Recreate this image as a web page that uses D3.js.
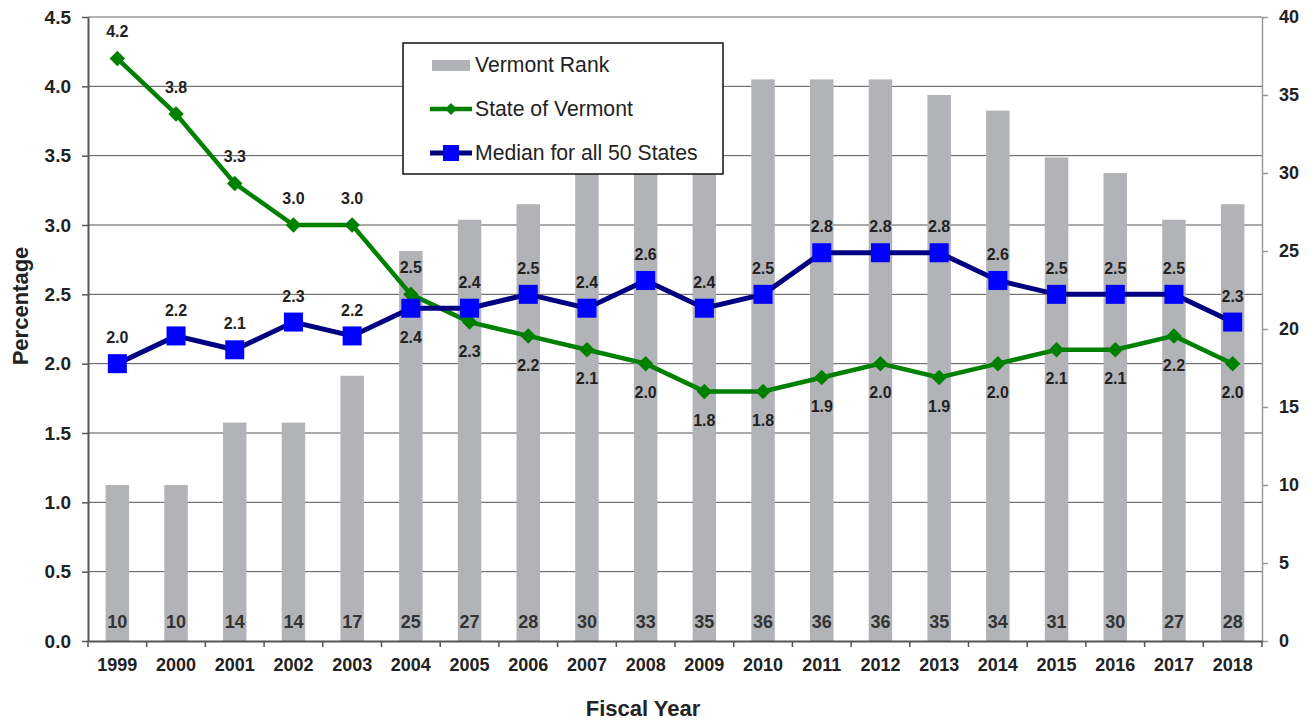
<!DOCTYPE html>
<html><head><meta charset="utf-8">
<script src="https://cdn.jsdelivr.net/npm/d3@7"></script>
<style>body{margin:0;background:#fff}svg{display:block;font-family:"Liberation Sans",Arial,sans-serif}</style>
</head><body><svg id="c" width="1312" height="721"></svg>
<script>
const years = ["1999","2000","2001","2002","2003","2004","2005","2006","2007","2008","2009","2010","2011","2012","2013","2014","2015","2016","2017","2018"];
const vermontRank = [10,10,14,14,17,25,27,28,30,33,35,36,36,36,35,34,31,30,27,28];
const stateOfVermont = [4.2,3.8,3.3,3.0,3.0,2.5,2.3,2.2,2.1,2.0,1.8,1.8,1.9,2.0,1.9,2.0,2.1,2.1,2.2,2.0];
const median50 = [2.0,2.2,2.1,2.3,2.2,2.4,2.4,2.5,2.4,2.6,2.4,2.5,2.8,2.8,2.8,2.6,2.5,2.5,2.5,2.3];
const leftTicks = [0,0.5,1,1.5,2,2.5,3,3.5,4,4.5];
const rightTicks = [0,5,10,15,20,25,30,35,40];

const svg = d3.select("#c");
const L = 88, R = 1262, T = 17, B = 641;
const x = d3.scaleBand().domain(years).range([L, R]).paddingInner(0.6).paddingOuter(0.3);
const xc = d => x(d) + x.bandwidth()/2;
const yL = d3.scaleLinear().domain([0,4.5]).range([B,T]);
const yR = d3.scaleLinear().domain([0,40]).range([B,T]);
const txt = "#222";
const FF = "Liberation Sans, Arial, sans-serif";

// gridlines
svg.append("g").selectAll("line").data(leftTicks.slice(1,-1)).join("line")
  .attr("x1",L).attr("x2",R).attr("y1",d=>yL(d)).attr("y2",d=>yL(d))
  .attr("stroke","#555").attr("stroke-width",1);
svg.append("line").attr("x1",L).attr("x2",R).attr("y1",T).attr("y2",T).attr("stroke","#999").attr("stroke-width",1.5);

// bars
svg.append("g").selectAll("rect").data(years).join("rect")
  .attr("x",d=>x(d)).attr("width",x.bandwidth())
  .attr("y",(d,i)=>yR(vermontRank[i])).attr("height",(d,i)=>B-yR(vermontRank[i]))
  .attr("fill","#b2b3b7");
svg.append("g").selectAll("text").data(years).join("text")
  .attr("x",d=>xc(d)).attr("y",622).attr("dy","0.35em").attr("text-anchor","middle")
  .attr("font-size",18).attr("font-weight","bold").attr("fill","#333")
  .text((d,i)=>vermontRank[i]);

// axes
const gl = svg.append("g").attr("transform",`translate(${L},0)`)
  .call(d3.axisLeft(yL).tickValues(leftTicks).tickFormat(d3.format(".1f")).tickSize(6).tickSizeOuter(0));
gl.select(".domain").attr("stroke","#555").attr("stroke-width",2);
gl.selectAll(".tick line").attr("stroke","#555").attr("stroke-width",1.5);
gl.selectAll(".tick text").attr("font-size",19).attr("font-weight","bold").attr("fill",txt)
  .attr("font-family",FF).attr("x",-17);

const gr = svg.append("g").attr("transform",`translate(${R},0)`)
  .call(d3.axisRight(yR).tickValues(rightTicks).tickSize(6).tickSizeOuter(0));
gr.select(".domain").attr("stroke","#999").attr("stroke-width",1.5);
gr.selectAll(".tick line").attr("stroke","#999").attr("stroke-width",1.5);
gr.selectAll(".tick text").attr("font-size",18).attr("font-weight","bold").attr("fill",txt)
  .attr("font-family",FF).attr("x",17);

const gx = svg.append("g").attr("transform",`translate(0,${B})`)
  .call(d3.axisBottom(x).tickSize(0));
gx.select(".domain").attr("stroke","#555").attr("stroke-width",2);
gx.selectAll(".tick text").attr("font-size",18).attr("font-weight","bold").attr("fill",txt)
  .attr("font-family",FF).attr("dy","0.35em").attr("y",24);
const step = (R-L)/years.length;
svg.append("g").selectAll("line").data(d3.range(years.length+1)).join("line")
  .attr("x1",i=>L+i*step).attr("x2",i=>L+i*step).attr("y1",B).attr("y2",B+6)
  .attr("stroke","#555").attr("stroke-width",1.5);

// green line
svg.append("path").datum(stateOfVermont)
  .attr("d",d3.line().x((d,i)=>xc(years[i])).y(d=>yL(d)))
  .attr("fill","none").attr("stroke","#008000").attr("stroke-width",4.5);
svg.append("g").selectAll("path").data(stateOfVermont).join("path")
  .attr("d",d3.symbol(d3.symbolSquare,120)())
  .attr("transform",(d,i)=>`translate(${xc(years[i])},${yL(d)}) rotate(45)`)
  .attr("fill","#008000");

// blue line
svg.append("path").datum(median50)
  .attr("d",d3.line().x((d,i)=>xc(years[i])).y(d=>yL(d)))
  .attr("fill","none").attr("stroke","#000080").attr("stroke-width",5);
svg.append("g").selectAll("rect").data(median50).join("rect")
  .attr("x",(d,i)=>xc(years[i])-9.5).attr("y",d=>yL(d)-9.5).attr("width",19).attr("height",19)
  .attr("fill","#0000ff");

// point labels
const gAbove = i => stateOfVermont[i] > median50[i];
const bBelow = i => stateOfVermont[i] > median50[i] && stateOfVermont[i]-median50[i] < 0.3;
svg.append("g").selectAll("text").data(stateOfVermont).join("text")
  .attr("x",(d,i)=>xc(years[i])).attr("y",(d,i)=>yL(d)+(gAbove(i)?-27:29)).attr("dy","0.35em")
  .attr("text-anchor","middle").attr("font-size",16).attr("font-weight","bold").attr("fill",txt)
  .text(d=>d.toFixed(1));
svg.append("g").selectAll("text").data(median50).join("text")
  .attr("x",(d,i)=>xc(years[i])).attr("y",(d,i)=>yL(d)+(bBelow(i)?29:-26)).attr("dy","0.35em")
  .attr("text-anchor","middle").attr("font-size",16).attr("font-weight","bold").attr("fill",txt)
  .text(d=>d.toFixed(1));

// axis titles
svg.append("text").attr("transform","translate(20,306) rotate(-90)").attr("text-anchor","middle")
  .attr("dy","0.35em").attr("font-size",22).attr("font-weight","bold").attr("fill",txt).text("Percentage");
svg.append("text").attr("x",643).attr("y",708).attr("text-anchor","middle").attr("dy","0.35em")
  .attr("font-size",22).attr("font-weight","bold").attr("fill",txt).text("Fiscal Year");

// legend
const lg = svg.append("g");
lg.append("rect").attr("x",403).attr("y",43).attr("width",320).attr("height",131)
  .attr("fill","#fff").attr("stroke","#111").attr("stroke-width",1.5);
lg.append("rect").attr("x",432).attr("y",60).attr("width",38).attr("height",11).attr("fill","#b2b3b7");
lg.append("line").attr("x1",430).attr("x2",472).attr("y1",109).attr("y2",109).attr("stroke","#008000").attr("stroke-width",4.5);
lg.append("path").attr("d",d3.symbol(d3.symbolSquare,70)()).attr("transform","translate(451,109) rotate(45)").attr("fill","#008000");
lg.append("line").attr("x1",430).attr("x2",472).attr("y1",153).attr("y2",153).attr("stroke","#000080").attr("stroke-width",5);
lg.append("rect").attr("x",443).attr("y",145).attr("width",16).attr("height",16).attr("fill","#0000ff");
const lt = [["Vermont Rank",65],["State of Vermont",109],["Median for all 50 States",153]];
lg.selectAll("text.l").data(lt).join("text").attr("x",475).attr("y",d=>d[1]).attr("dy","0.35em")
  .attr("font-size",21.2).attr("fill",txt).text(d=>d[0]);
</script></body></html>
